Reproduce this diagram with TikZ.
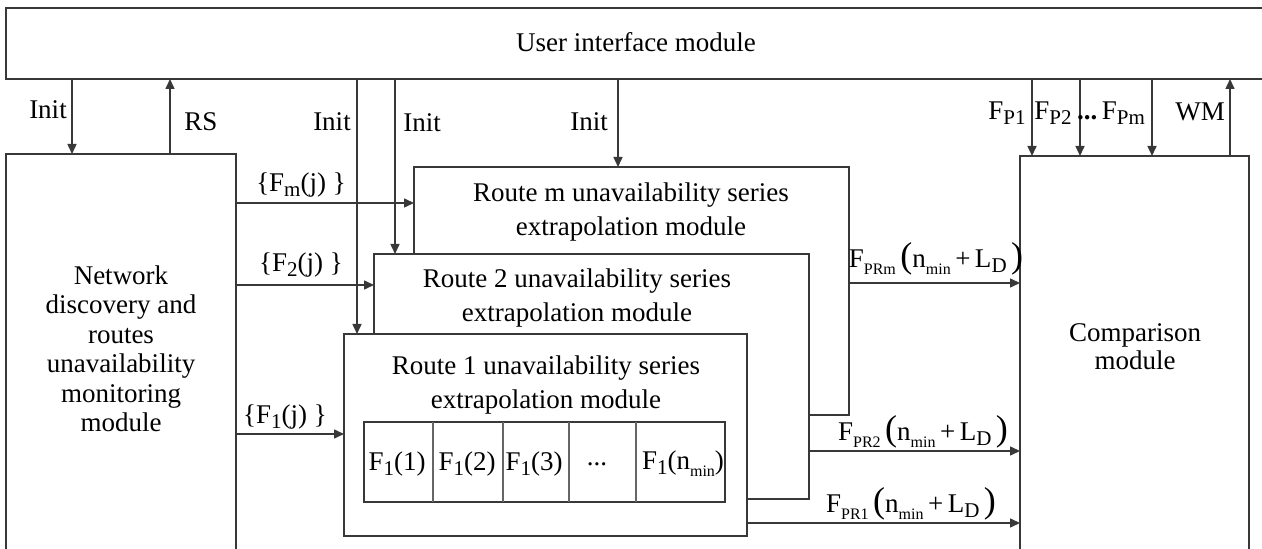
\documentclass[tikz,border=0pt]{standalone}
\usepackage{fontspec}
\setmainfont{Liberation Serif}
\usetikzlibrary{arrows.meta,fit}
% subscripts set in the text font
\newcommand\sbx[1]{\raisebox{-0.4ex}{\fontsize{10.5}{10}\selectfont #1}}
\newcommand\sbs[1]{\raisebox{-0.55ex}{\fontsize{8}{8}\selectfont #1}}
\newcommand\bigp[1]{{\fontsize{18}{18}\selectfont #1}}
\newcommand\fpr[1]{F\sbs{#1}\,\bigp{(}n\sbs{min}\,+\,L\sbx{D}\,\bigp{)}}

\begin{document}
\begin{tikzpicture}[x=0.5pt,y=-0.5pt,
  box/.style={draw=black!78, line width=0.75pt, fill=white, inner sep=0pt, outer sep=0pt},
  cell/.style={draw=black!60, line width=0.75pt},
  txt/.style={font=\fontsize{13.5}{17.3}\selectfont, align=center, inner sep=0pt},
  arr/.style={draw=black!78, line width=0.75pt, -{Triangle[length=5pt,width=4.5pt]}},
  lbl/.style={font=\fontsize{13.5}{16}\selectfont, inner sep=0pt}]
\useasboundingbox (0,0) rectangle (1262,549);
\clip (0,0) rectangle (1262,549);
\fill[white] (0,0) rectangle (1262,549);

% ---- modules ----
\node[box, fit={(6,8) (1280,79)}] (ui) {};
\node[txt] (uit) at (636,42) {User interface module};

\node[box, fit={(6,154) (236,580)}] (net) {};
\node[txt, font=\fontsize{13.5}{14.75}\selectfont] (nett) at (121,349)
  {Network\\discovery and\\routes\\unavailability\\monitoring\\module};

\node[box, fit={(414,167) (849,415)}] (rm) {};
\node[txt] (rmt) at (631,212) {Route m unavailability series\\extrapolation module};

\node[box, fit={(374,254) (809,499)}] (r2) {};
\node[txt] (r2t) at (577,298) {Route 2 unavailability series\\extrapolation module};

\node[box, fit={(344,334) (747,536)}] (r1) {};
\node[txt] (r1t) at (546,385) {Route 1 unavailability series\\extrapolation module};

\node[box, fit={(1020,156) (1249,580)}] (cmp) {};
\node[txt, font=\fontsize{13.5}{14}\selectfont] (cmpt) at (1135,347) {Comparison\\module};

% ---- buffer of route 1 ----
\node[box, fit={(364,422) (725,502)}] (tab) {};
\foreach \x in {433,503,569,636}
  \draw[cell] (\x,422) -- (\x,502);
\node[lbl] (c1) at (397,464) {F\sbx{1}(1)};
\node[lbl] (c2) at (467,464) {F\sbx{1}(2)};
\node[lbl] (c3) at (534,464) {F\sbx{1}(3)};
\node[lbl] (c4) at (597,464) {...};
\node[lbl] (c5) at (683,464) {F\sbx{1}(n\sbs{min})};

% ---- vertical guide coordinates ----
\coordinate (v1) at (72,0);
\coordinate (v2) at (170,0);
\coordinate (v3) at (357,0);
\coordinate (v4) at (395,0);
\coordinate (v5) at (618,0);
\coordinate (v6) at (1032,0);
\coordinate (v7) at (1080,0);
\coordinate (v8) at (1152,0);
\coordinate (v9) at (1230,0);

% ---- control and status lines ----
\draw[arr] (v1 |- ui.south) -- (v1 |- net.north);
\draw[arr] (v2 |- net.north) -- (v2 |- ui.south);
\draw[arr] (v3 |- ui.south) -- (v3 |- r1.north);
\draw[arr] (v4 |- ui.south) -- (v4 |- r2.north);
\draw[arr] (v5 |- ui.south) -- (v5 |- rm.north);
\draw[arr] (v6 |- ui.south) -- (v6 |- cmp.north);
\draw[arr] (v7 |- ui.south) -- (v7 |- cmp.north);
\draw[arr] (v8 |- ui.south) -- (v8 |- cmp.north);
\draw[arr] (v9 |- cmp.north) -- (v9 |- ui.south);

\node[lbl] (l1) at (48,110) {Init};
\node[lbl] (l2) at (201,122) {RS};
\node[lbl] (l3) at (332,122) {Init};
\node[lbl] (l4) at (422,123) {Init};
\node[lbl] (l5) at (589,122) {Init};
\node[lbl] (l6) at (1007,113) {F\sbx{P1}};
\node[lbl] (l7) at (1053,113) {F\sbx{P2}};
\node[lbl] (l8) at (1111,113) {\textbf{...}\,F\sbx{Pm}};
\node[lbl] (l9) at (1200,112) {WM};

% ---- series into the extrapolation modules ----
\coordinate (h1) at (0,203);
\coordinate (h2) at (0,285);
\coordinate (h3) at (0,434);
\draw[arr] (net.east |- h1) -- (rm.west |- h1);
\draw[arr] (net.east |- h2) -- (r2.west |- h2);
\draw[arr] (net.east |- h3) -- (r1.west |- h3);
\node[lbl] (s1) at (301,185) {\{F\sbx{m}(j) \}};
\node[lbl] (s2) at (301,265) {\{F\sbx{2}(j) \}};
\node[lbl] (s3) at (285,417) {\{F\sbx{1}(j) \}};

% ---- forecasts into the comparison module ----
\coordinate (h4) at (0,283);
\coordinate (h5) at (0,451);
\coordinate (h6) at (0,523);
\draw[arr] (rm.east |- h4) -- (cmp.west |- h4);
\draw[arr] (r2.east |- h5) -- (cmp.west |- h5);
\draw[arr] (r1.east |- h6) -- (cmp.west |- h6);
\node[lbl] (o1) at (936,259) {\fpr{PRm}};
\node[lbl] (o2) at (923,432) {\fpr{PR2}};
\node[lbl] (o3) at (911,504) {\fpr{PR1}};
\end{tikzpicture}
\end{document}
